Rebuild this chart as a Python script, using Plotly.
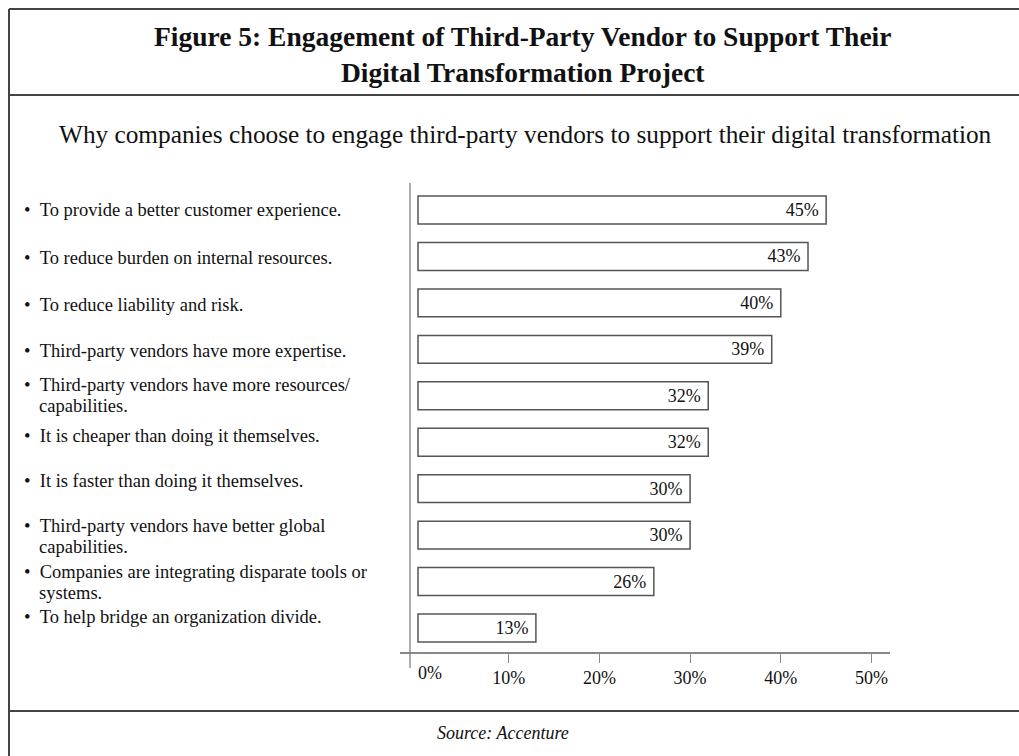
import plotly.graph_objects as go

# ---- data ----
categories = [
    "To provide a better customer experience.",
    "To reduce burden on internal resources.",
    "To reduce liability and risk.",
    "Third-party vendors have more expertise.",
    "Third-party vendors have more resources/<br>capabilities.",
    "It is cheaper than doing it themselves.",
    "It is faster than doing it themselves.",
    "Third-party vendors have better global<br>capabilities.",
    "Companies are integrating disparate tools or<br>systems.",
    "To help bridge an organization divide.",
]
values = [45, 43, 40, 39, 32, 32, 30, 30, 26, 13]
tick_vals = [10, 20, 30, 40, 50]
tick_text = ["10%", "20%", "30%", "40%", "50%"]

title_text = "Figure 5: Engagement of Third-Party Vendor to Support Their<br>Digital Transformation Project"
subtitle_text = "Why companies choose to engage third-party vendors to support their digital transformation"
source_text = "Source: Accenture"

# ---- layout geometry (pixels) ----
W, H = 1019, 756
ML, MR, MT, MB = 400, 129, 183, 104
PW, PH = W - ML - MR, H - MT - MB
PX_PER_UNIT = 9.07
X0_PX = 418  # pixel where 0% sits


def px_x(p):
    return (p - ML) / PW


def px_y(p):
    return 1 - (p - MT) / PH


x_range = [(ML - X0_PX) / PX_PER_UNIT, (W - MR - X0_PX) / PX_PER_UNIT]
idx = list(range(len(categories)))
step = (628 - 210) / 9
y_range = [9 + (MT + PH - 628) / step, -(210 - MT) / step]

serif = "Liberation Serif, Times New Roman, serif"

fig = go.Figure()
fig.add_trace(go.Bar(
    x=values,
    y=idx,
    orientation="h",
    width=0.6,
    marker=dict(color="white", line=dict(color="#555555", width=1.5)),
    text=[f"{v}%\u00a0" for v in values],
    textposition="inside",
    insidetextanchor="end",
    textfont=dict(family=serif, size=18, color="#111111"),
    cliponaxis=False,
    showlegend=False,
    hoverinfo="skip",
))

annotations = []
# pixel shifts (up = positive) for each line of each label, relative to its bar centre
label_line_shifts = [[0], [-2], [-2], [-2], [11, -10], [6], [8], [9, -12], [10, -11], [11]]
for i, (c, shifts) in enumerate(zip(categories, label_line_shifts)):
    lines = c.split("<br>")
    for j, (ln, ys) in enumerate(zip(lines, shifts)):
        if j == 0:
            txt, xp = "•\u00a0\u00a0" + ln, 22
        else:
            txt, xp = ln, 37
        annotations.append(dict(
            x=px_x(xp), xref="paper", y=i, yref="y", yshift=ys,
            text=txt, showarrow=False, xanchor="left", yanchor="middle", align="left",
            font=dict(family=serif, size=18.5, color="#111111"),
        ))

annotations.append(dict(
    x=0, xref="x", xshift=12, y=px_y(673), yref="paper", text="0%", showarrow=False,
    xanchor="center", yanchor="middle", font=dict(family=serif, size=18, color="#111111"),
))
annotations.append(dict(
    x=px_x(522), xref="paper", y=px_y(54), yref="paper", text="<b>" + title_text + "</b>",
    showarrow=False, xanchor="center", yanchor="middle", align="center",
    font=dict(family=serif, size=27.5, color="#111111"),
))
annotations.append(dict(
    x=px_x(525), xref="paper", y=px_y(134), yref="paper", text=subtitle_text,
    showarrow=False, xanchor="center", yanchor="middle",
    font=dict(family=serif, size=25.3, color="#111111"),
))
annotations.append(dict(
    x=px_x(503), xref="paper", y=px_y(733), yref="paper", text="<i>" + source_text + "</i>",
    showarrow=False, xanchor="center", yanchor="middle",
    font=dict(family=serif, size=18, color="#111111"),
))

frame = "#444444"
shapes = [
    # outer frame
    dict(type="line", xref="paper", yref="paper", x0=px_x(9), x1=px_x(W + 5), y0=px_y(9), y1=px_y(9),
         line=dict(color=frame, width=2)),
    dict(type="line", xref="paper", yref="paper", x0=px_x(9), x1=px_x(9), y0=px_y(9), y1=px_y(H + 5),
         line=dict(color=frame, width=2)),
    dict(type="line", xref="paper", yref="paper", x0=px_x(9), x1=px_x(W + 5), y0=px_y(95), y1=px_y(95),
         line=dict(color=frame, width=2)),
    dict(type="line", xref="paper", yref="paper", x0=px_x(9), x1=px_x(W + 5), y0=px_y(711), y1=px_y(711),
         line=dict(color=frame, width=2)),
    # y axis line (extends below the x axis)
    dict(type="line", xref="paper", yref="paper", x0=px_x(410), x1=px_x(410), y0=px_y(183), y1=px_y(668),
         line=dict(color="#777777", width=1.2)),
]

fig.update_layout(
    width=W, height=H,
    margin=dict(l=ML, r=MR, t=MT, b=MB, pad=0),
    paper_bgcolor="white", plot_bgcolor="white",
    annotations=annotations, shapes=shapes,
    xaxis=dict(range=x_range, tickvals=tick_vals, ticktext=tick_text, showgrid=False, zeroline=False,
               showline=True, linecolor="#888888", linewidth=1.5, ticks="outside", ticklen=9,
               tickcolor="#888888", tickwidth=1.2,
               tickfont=dict(family=serif, size=18, color="#111111")),
    yaxis=dict(range=y_range, showticklabels=False, showgrid=False, zeroline=False, showline=False,
               ticks=""),
    bargap=0.4,
)

fig.write_html("out.html")
